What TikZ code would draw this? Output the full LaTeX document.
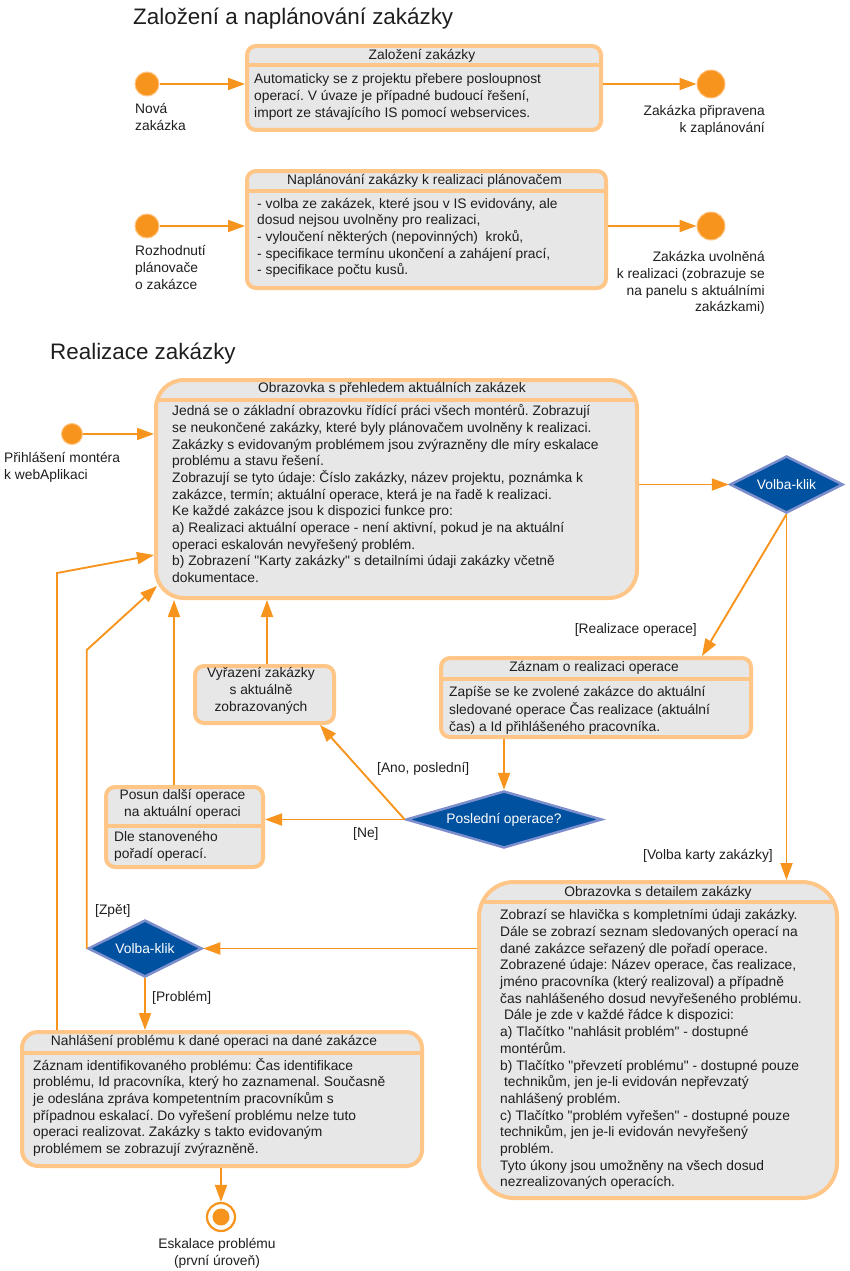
\documentclass[tikz,border=0pt]{standalone}
\usepackage{fontspec}
\setmainfont{Liberation Sans}
\usetikzlibrary{arrows.meta,positioning,shapes.geometric,calc}
\frenchspacing

\definecolor{flowor}{RGB}{247,148,29}
\definecolor{rimor}{RGB}{255,198,135}
\definecolor{boxgray}{RGB}{231,231,231}
\definecolor{decblue}{RGB}{0,82,160}
\definecolor{decrim}{RGB}{125,142,205}
\definecolor{txt}{RGB}{30,30,30}

\newcommand{\bodyfont}{\fontsize{13.8}{16.7}\selectfont}
\newcommand{\qq}{\textquotedbl}

\begin{document}
\begin{tikzpicture}[x=1pt, y=-1pt,
  every node/.style={text=txt, font=\bodyfont},
  state/.style={draw=rimor, line width=4pt, fill=boxgray, rounded corners=9pt, anchor=north west, inner sep=0pt},
  sep/.style={draw=rimor, line width=4pt, shorten <=4pt, shorten >=4pt},
  head/.style={anchor=base, inner sep=0pt},
  body/.style={anchor=north west, align=left, inner sep=0pt},
  startdot/.style={circle, fill=flowor, draw=rimor, line width=1pt, minimum size=24pt, inner sep=0pt},
  enddot/.style={circle, draw=flowor, line width=2.2pt, fill=white, minimum size=28pt, inner sep=0pt,
    path picture={\fill[flowor] (path picture bounding box.center) circle (8.5pt);}},
  decision/.style={diamond, fill=decblue, draw=decrim, line width=2.5pt, text=white, inner sep=1pt, aspect=2},
  flow/.style={->, >={Triangle[length=17pt,width=12pt]}, draw=flowor, line width=1.9pt},
  guard/.style={inner sep=0pt, anchor=base west},
  title/.style={font=\fontsize{22.4}{26}\selectfont, anchor=base west, inner sep=0pt}
]
\useasboundingbox (0,0) rectangle (850,1271);

% zalozeni a naplanovani
\node[title] (title1) at (133,25) {Založení a naplánování zakázky};

\node[startdot] (novaz) at (147,84) {};
\node[body] (novaz-l) at (135,101.8) {\strut Nová\\zakázka};
\node[state, minimum width=354pt, minimum height=84pt] (zal) at (245,44) {};
\draw[sep] (zal.west |- 0,65.5) -- (zal.east |- 0,65.5);
\node[head] (zal-head) at (422,59.5) {Založení zakázky};
\node[body] (zal-body) at (254,71.8) {\strut Automaticky se z projektu přebere posloupnost\\
  operací. V úvaze je případné budoucí řešení,\\
  import ze stávajícího IS pomocí webservices.};
\node[startdot, minimum size=28pt] (zalend) at (711,84) {};
\node[body, align=right, anchor=north east] (zalend-l) at (765,103.8) {\strut Zakázka připravena\\k zaplánování};

\node[startdot] (rozh) at (147,226) {};
\node[body] (rozh-l) at (135,243.8) {\strut Rozhodnutí\\plánovače\\o zakázce};
\node[state, minimum width=359pt, minimum height=117pt] (napl) at (245,169) {};
\draw[sep] (napl.west |- 0,191) -- (napl.east |- 0,191);
\node[head] (napl-head) at (424.5,184.5) {Naplánování zakázky k realizaci plánovačem};
\node[body] (napl-body) at (257,196.3) {\strut - volba ze zakázek, které jsou v IS evidovány, ale\\
  dosud nejsou uvolněny pro realizaci,\\
  - vyloučení některých (nepovinných)\ \ kroků,\\
  - specifikace termínu ukončení a zahájení prací,\\
  - specifikace počtu kusů.};
\node[startdot, minimum size=28pt] (uvolend) at (711,226) {};
\node[body, align=right, anchor=north east] (uvolend-l) at (765,249.8) {\strut Zakázka uvolněná\\
  k realizaci (zobrazuje se\\na panelu s aktuálními\\zakázkami)};

\draw[flow] (novaz) -- (novaz -| zal.west);
\draw[flow] (zal.east |- zalend) -- (zalend);
\draw[flow] (rozh) -- (rozh -| napl.west);
\draw[flow] (napl.east |- uvolend) -- (uvolend);

% realizace
\node[title] (title2) at (50,359) {Realizace zakázky};

\node[startdot, minimum size=21pt] (prihl) at (72,434) {};
\node[body] (prihl-l) at (4,450.8) {\strut Přihlášení montéra\\k webAplikaci};

\node[state, rounded corners=28pt, minimum width=481pt, minimum height=218pt] (prehled) at (154,378) {};
\draw[sep] (prehled.west |- 0,399.5) -- (prehled.east |- 0,399.5);
\node[head] (prehled-head) at (392,392.5) {Obrazovka s přehledem aktuálních zakázek};
\node[body] (prehled-body) at (172,403.8) {\strut Jedná se o základní obrazovku řídící práci všech montérů. Zobrazují\\
  se neukončené zakázky, které byly plánovačem uvolněny k realizaci.\\
  Zakázky s evidovaným problémem jsou zvýrazněny dle míry eskalace\\
  problému a stavu řešení.\\
  Zobrazují se tyto údaje: Číslo zakázky, název projektu, poznámka k\\
  zakázce, termín; aktuální operace, která je na řadě k realizaci.\\
  Ke každé zakázce jsou k dispozici funkce pro:\\
  a) Realizaci aktuální operace - není aktivní, pokud je na aktuální\\
  operaci eskalován nevyřešený problém.\\
  b) Zobrazení \qq Karty zakázky\qq{} s detailními údaji zakázky včetně\\
  dokumentace.};

\node[decision, minimum width=113pt, minimum height=57pt] (volba1) at (786.5,484.5) {Volba-klik};

\node[state, minimum width=310pt, minimum height=79pt] (zaznam) at (439,656) {};
\draw[sep] (zaznam.west |- 0,679) -- (zaznam.east |- 0,679);
\node[head] (zaznam-head) at (594,671.5) {Záznam o realizaci operace};
\node[body] (zaznam-body) at (449,684.8) {\strut Zapíše se ke zvolené zakázce do aktuální\\
  sledované operace Čas realizace (aktuální\\
  čas) a Id přihlášeného pracovníka.};

\node[decision, aspect=3.4, minimum width=196pt, minimum height=57pt] (posledni) at (504,819.5) {Poslední operace?};

\node[state, minimum width=139pt, minimum height=57pt] (vyrazeni) at (193,664) {};
\node[align=center, inner sep=0pt] (vyrazeni-t) at (261,691) {Vyřazení zakázky\\s aktuálně\\zobrazovaných};

\node[state, minimum width=157pt, minimum height=80pt] (posun) at (104,785) {};
\draw[sep] (posun.west |- 0,826) -- (posun.east |- 0,826);
\node[body, align=center, anchor=north] (posun-head) at (182.5,787.8) {\strut Posun další operace\\na aktuální operaci};
\node[body] (posun-body) at (114,829.8) {\strut Dle stanoveného\\pořadí operací.};

\node[decision, minimum width=114pt, minimum height=57pt] (volba2) at (145,948.5) {Volba-klik};

\node[state, rounded corners=16pt, minimum width=400pt, minimum height=134pt] (nahl) at (20,1030) {};
\draw[sep] (nahl.west |- 0,1053) -- (nahl.east |- 0,1053);
\node[head] (nahl-head) at (214,1045.5) {Nahlášení problému k dané operaci na dané zakázce};
\node[body] (nahl-body) at (33,1057.8) {\strut Záznam identifikovaného problému: Čas identifikace\\
  problému, Id pracovníka, který ho zaznamenal. Současně\\
  je odeslána zpráva kompetentním pracovníkům s\\
  případnou eskalací. Do vyřešení problému nelze tuto\\
  operaci realizovat. Zakázky s takto evidovaným\\
  problémem se zobrazují zvýrazněně.};

\node[enddot] (eskal) at (221,1217) {};
\node[body, align=center, anchor=north] (eskal-l) at (217,1236.8) {\strut Eskalace problému\\(první úroveň)};

\node[state, rounded corners=35pt, minimum width=358pt, minimum height=316pt] (detail) at (477,880) {};
\draw[sep] (detail.west |- 0,902) -- (detail.east |- 0,902);
\node[head] (detail-head) at (658,896.5) {Obrazovka s detailem zakázky};
\node[body] (detail-body) at (500,907.8) {\strut Zobrazí se hlavička s kompletními údaji zakázky.\\
  Dále se zobrazí seznam sledovaných operací na\\
  dané zakázce seřazený dle pořadí operace.\\
  Zobrazené údaje: Název operace, čas realizace,\\
  jméno pracovníka (který realizoval) a případně\\
  čas nahlášeného dosud nevyřešeného problému.\\
  \hspace{3.8pt}Dále je zde v každé řádce k dispozici:\\
  a) Tlačítko \qq nahlásit problém\qq{} - dostupné\\
  montérům.\\
  b) Tlačítko \qq převzetí problému\qq{} - dostupné pouze\\
  \hspace{3.8pt}technikům, jen je-li evidován nepřevzatý\\
  nahlášený problém.\\
  c) Tlačítko \qq problém vyřešen\qq{} - dostupné pouze\\
  technikům, jen je-li evidován nevyřešený\\
  problém.\\
  Tyto úkony jsou umožněny na všech dosud\\
  nezrealizovaných operacích.};

% guards
\node[guard, anchor=base east] (g-real) at (697,633.5) {[Realizace operace]};
\node[guard, anchor=base east] (g-karta) at (773,859.5) {[Volba karty zakázky]};
\node[guard] (g-ano) at (377,772.5) {[Ano, poslední]};
\node[guard] (g-ne) at (353,837.5) {[Ne]};
\node[guard] (g-zpet) at (95,914.5) {[Zpět]};
\node[guard] (g-probl) at (152,1001.5) {[Problém]};

\draw[flow] (prihl) -- (prihl -| prehled.west);
\draw[flow] (prehled.east |- volba1) -- (volba1.west);
\draw[flow] (volba1.south) -- (zaznam.north -| 702,0);
\draw[flow] (volba1.south) -- (detail.north -| volba1.south);
\draw[flow] (zaznam.south -| posledni.north) -- (posledni.north);
\draw[flow] (posledni.west) -- (posledni.west -| posun.east);
\draw[flow] (posledni.west) -- (vyrazeni.south -| 320,0);
\draw[flow] (vyrazeni.north -| 267,0) -- (prehled.south -| 267,0);
\draw[flow] (posun.north -| 174,0) -- (prehled.south -| 174,0);
\draw[flow] (volba2.west) -- (volba2.west |- 0,650) -- ($(prehled.south west)+(3,-14)$);
\draw[flow] (nahl.north -| 57,0) -- (57,573) -- (prehled.west |- 0,555);
\draw[flow] (detail.west |- volba2) -- (volba2.east);
\draw[flow] (volba2.south) -- (volba2.south |- nahl.north);
\draw[flow] (nahl.south -| eskal) -- (eskal);
\end{tikzpicture}
\end{document}
